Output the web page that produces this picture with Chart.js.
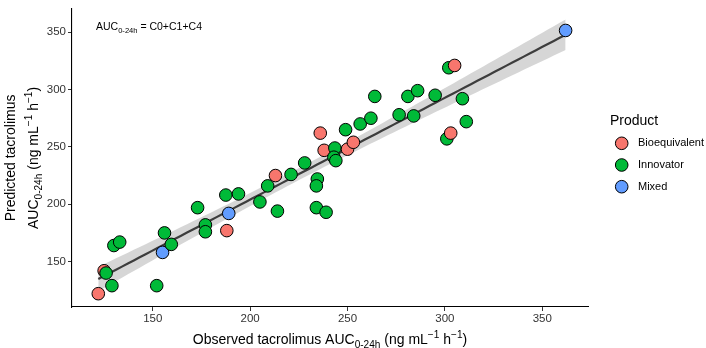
<!DOCTYPE html>
<html lang="en">
  <head>
    <meta charset="UTF-8" />
    <title>Predicted vs observed tacrolimus AUC</title>
    <script src="https://cdn.jsdelivr.net/npm/chart.js"></script>
    <style>
      html, body { margin: 0; padding: 0; background: #fff; }
      canvas { display: block; }
    </style>
  </head>
  <body>
    <canvas id="auc-chart" width="706" height="348"></canvas>
  </body>
</html>

<script>
  // observed / predicted AUC0-24h, one entry per patient
  const observed = [122, 125, 126, 129, 130, 133, 152, 155, 156, 159.5,
    173, 177, 177, 188, 189, 187.5, 194, 205, 214, 209,
    213, 221, 228, 234.5, 234, 234, 239, 236, 238, 243.5,
    243, 244, 250, 253, 249, 256.5, 262, 264, 276.5, 281,
    286, 284, 295, 302, 305, 309, 311, 301, 303, 362];
  const predicted = [122, 142, 140, 129, 164, 167, 129, 158, 175, 165,
    197, 182, 176, 177, 192, 208, 209, 202, 194, 216,
    225, 226, 236, 222, 216, 197, 193, 262, 247, 249,
    241, 238, 248, 254, 265, 270, 275, 294, 278, 294,
    299, 277, 295, 319, 321, 292, 272, 257, 262, 351.5];
  const product = ['Bioequivalent', 'Bioequivalent', 'Innovator', 'Innovator', 'Innovator', 'Innovator', 'Innovator', 'Mixed', 'Innovator', 'Innovator',
    'Innovator', 'Innovator', 'Innovator', 'Bioequivalent', 'Mixed', 'Innovator', 'Innovator', 'Innovator', 'Innovator', 'Innovator',
    'Bioequivalent', 'Innovator', 'Innovator', 'Innovator', 'Innovator', 'Innovator', 'Innovator', 'Bioequivalent', 'Bioequivalent', 'Innovator',
    'Innovator', 'Innovator', 'Bioequivalent', 'Bioequivalent', 'Innovator', 'Innovator', 'Innovator', 'Innovator', 'Innovator', 'Innovator',
    'Innovator', 'Innovator', 'Innovator', 'Innovator', 'Bioequivalent', 'Innovator', 'Innovator', 'Innovator', 'Bioequivalent', 'Mixed'];

  const categories = ['Bioequivalent', 'Innovator', 'Mixed'];
  const catColors = ['#F8766D', '#00BA38', '#619CFF'];
  const xTicks = [150, 200, 250, 300, 350];
  const yTicks = [150, 200, 250, 300, 350];

  const FONT = '"Liberation Sans", Arial, sans-serif';

  // linear fit + 95% confidence band (like geom_smooth(method = "lm"))
  function linearFit() {
    const n = observed.length;
    const mx = observed.reduce((a, b) => a + b, 0) / n;
    const my = predicted.reduce((a, b) => a + b, 0) / n;
    let sxx = 0, sxy = 0;
    for (let i = 0; i < n; i++) {
      sxx += (observed[i] - mx) ** 2;
      sxy += (observed[i] - mx) * (predicted[i] - my);
    }
    const b = sxy / sxx;
    const a = my - b * mx;
    let rss = 0;
    for (let i = 0; i < n; i++) rss += (predicted[i] - a - b * observed[i]) ** 2;
    const s = Math.sqrt(rss / (n - 2));
    const t = 2.0106; // qt(0.975, 48)

    const lo = Math.min(...observed), hi = Math.max(...observed);
    const fit = [], lower = [], upper = [];
    for (let k = 0; k < 80; k++) {
      const x = lo + (hi - lo) * k / 79;
      const y = a + b * x;
      const se = s * Math.sqrt(1 / n + (x - mx) ** 2 / sxx);
      fit.push({ x: x, y: y });
      lower.push({ x: x, y: y - t * se });
      upper.push({ x: x, y: y + t * se });
    }
    return { fit, lower, upper };
  }

  const band = linearFit();

  // text with sub/superscripts: parts = [[text, 'sub'|'sup'|''], ...]
  function richWidth(ctx, parts, size) {
    let w = 0;
    parts.forEach(p => {
      ctx.font = (p[1] ? size * 0.72 : size) + 'px ' + FONT;
      w += ctx.measureText(p[0]).width;
    });
    return w;
  }

  function drawRich(ctx, parts, x, y, size, align) {
    let cx = align === 'center' ? x - richWidth(ctx, parts, size) / 2 : x;
    ctx.textAlign = 'left';
    ctx.textBaseline = 'alphabetic';
    parts.forEach(p => {
      ctx.font = (p[1] ? size * 0.72 : size) + 'px ' + FONT;
      let dy = 0;
      if (p[1] === 'sub') dy = size * 0.3;
      if (p[1] === 'sup') dy = -size * 0.42;
      ctx.fillText(p[0], cx, y + dy);
      cx += ctx.measureText(p[0]).width;
    });
  }

  const extras = {
    id: 'extras',
    afterDraw(chart) {
      const ctx = chart.ctx;
      const area = chart.chartArea;
      ctx.save();
      ctx.fillStyle = '#000';

      // annotation
      drawRich(ctx, [['AUC', ''], ['0-24h', 'sub'], [' = C0+C1+C4', '']], 96, 30, 10.5, 'left');

      // x title
      const midX = (area.left + area.right) / 2;
      drawRich(ctx, [['Observed tacrolimus AUC', ''], ['0-24h', 'sub'], [' (ng mL', ''], ['\u22121', 'sup'],
        [' h', ''], ['\u22121', 'sup'], [')', '']], midX, 344, 14, 'center');

      // y title (two lines, rotated)
      const midY = (area.top + area.bottom) / 2;
      ctx.save();
      ctx.translate(15, midY);
      ctx.rotate(-Math.PI / 2);
      drawRich(ctx, [['Predicted tacrolimus', '']], 0, 0, 14, 'center');
      ctx.restore();
      ctx.save();
      ctx.translate(38, midY);
      ctx.rotate(-Math.PI / 2);
      drawRich(ctx, [['AUC', ''], ['0-24h', 'sub'], [' (ng mL', ''], ['\u22121', 'sup'],
        [' h', ''], ['\u22121', 'sup'], [')', '']], 0, 0, 14, 'center');
      ctx.restore();

      // legend
      ctx.fillStyle = '#000';
      ctx.font = '14px ' + FONT;
      ctx.textAlign = 'left';
      ctx.textBaseline = 'alphabetic';
      ctx.fillText('Product', 610, 125);
      categories.forEach((c, i) => {
        const y = 143.3 + i * 21.7;
        ctx.beginPath();
        ctx.arc(621.7, y, 6.3, 0, Math.PI * 2);
        ctx.fillStyle = catColors[i];
        ctx.fill();
        ctx.lineWidth = 1;
        ctx.strokeStyle = '#000';
        ctx.stroke();
        ctx.fillStyle = '#000';
        ctx.font = '11px ' + FONT;
        ctx.textBaseline = 'middle';
        ctx.fillText(c, 638, y);
      });
      ctx.restore();
    },
  };

  const pointColors = product.map(p => catColors[categories.indexOf(p)]);

  const ctx = document.getElementById('auc-chart').getContext('2d');
  new Chart(ctx, {
    type: 'scatter',
    data: {
      datasets: [
        {
          label: 'points',
          data: observed.map((x, i) => ({ x: x, y: predicted[i] })),
          backgroundColor: pointColors,
          borderColor: '#000',
          borderWidth: 1,
          pointRadius: 6.3,
          pointHoverRadius: 6.3,
          order: 0,
        },
        {
          type: 'line',
          label: 'fit',
          data: band.fit,
          borderColor: '#3d3d3d',
          borderWidth: 2.2,
          pointRadius: 0,
          fill: false,
          order: 1,
        },
        {
          type: 'line',
          label: 'lower',
          data: band.lower,
          borderWidth: 0,
          borderColor: 'rgba(0,0,0,0)',
          pointRadius: 0,
          fill: false,
          order: 2,
        },
        {
          type: 'line',
          label: 'upper',
          data: band.upper,
          borderWidth: 0,
          borderColor: 'rgba(0,0,0,0)',
          backgroundColor: 'rgba(153,153,153,0.4)',
          pointRadius: 0,
          fill: '-1',
          order: 3,
        },
      ],
    },
    options: {
      responsive: false,
      animation: false,
      devicePixelRatio: 1,
      layout: { padding: { left: 0, right: 118, top: 3, bottom: 0 } },
      plugins: {
        legend: { display: false },
        tooltip: { enabled: false },
      },
      scales: {
        x: {
          type: 'linear',
          min: 108.5,
          max: 373.5,
          afterBuildTicks: s => { s.ticks = xTicks.map(v => ({ value: v })); },
          afterFit: s => { s.height = 41; },
          grid: { drawOnChartArea: false, drawTicks: true, tickLength: 4, tickColor: '#333' },
          border: { color: '#000', width: 1.1 },
          ticks: { color: '#333', padding: 1, font: { size: 11.5, family: FONT } },
        },
        y: {
          type: 'linear',
          min: 110.4,
          max: 370.3,
          afterBuildTicks: s => { s.ticks = yTicks.map(v => ({ value: v })); },
          afterFit: s => { s.width = 72; },
          grid: { drawOnChartArea: false, drawTicks: true, tickLength: 4, tickColor: '#333' },
          border: { color: '#000', width: 1.1 },
          ticks: { color: '#333', padding: 2, font: { size: 11.5, family: FONT } },
        },
      },
    },
    plugins: [extras],
  });
</script>
